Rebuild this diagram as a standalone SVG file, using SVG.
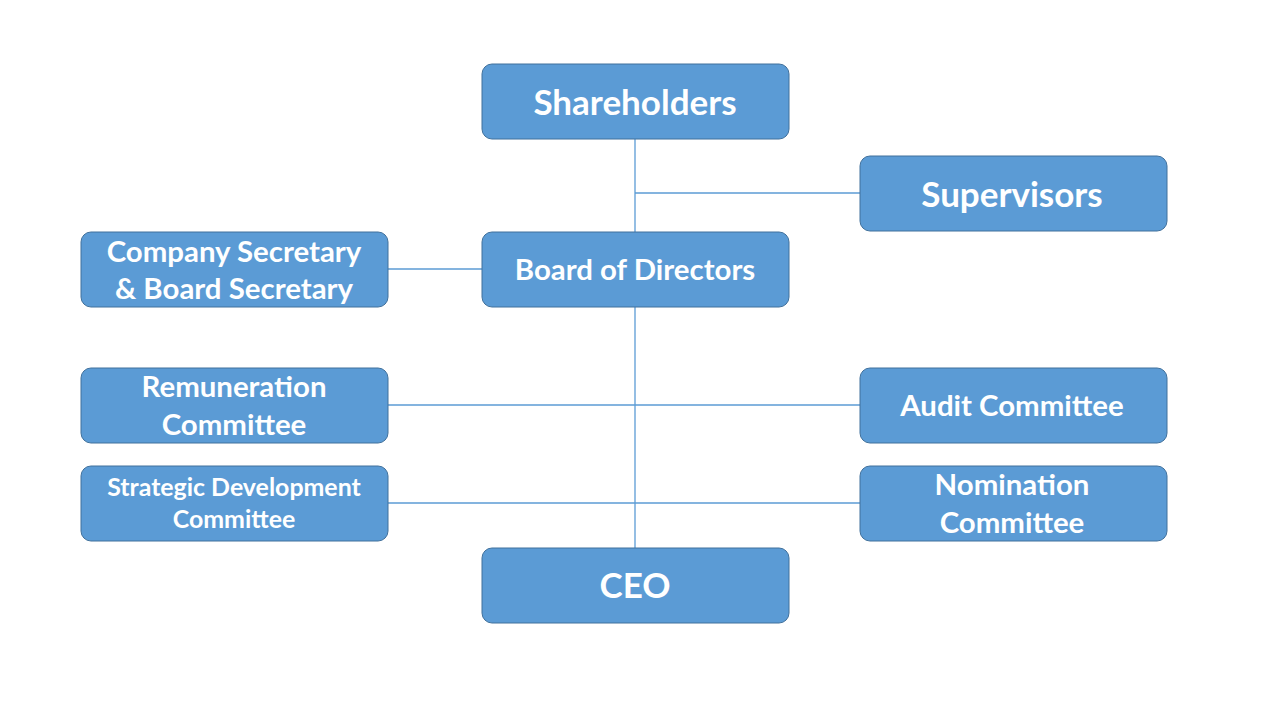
<svg xmlns="http://www.w3.org/2000/svg" width="1276" height="717" viewBox="0 0 1276 717">
<style>
.box{fill:#5B9BD5;stroke:#41719C;stroke-width:1}
.t{fill:#fff;font-family:Lato,"Liberation Sans",sans-serif;font-weight:bold;text-anchor:middle}
.l{stroke:#5B9BD5;stroke-width:1.3;fill:none}
</style>
<rect width="1276" height="717" fill="#fff"/>
<g id="connectors">
<line class="l" x1="635" y1="139" x2="635" y2="548"/>
<line class="l" x1="635" y1="193" x2="860" y2="193"/>
<line class="l" x1="388" y1="269" x2="482" y2="269"/>
<line class="l" x1="388" y1="405" x2="860" y2="405"/>
<line class="l" x1="388" y1="503" x2="860" y2="503"/>
</g>
<g id="shareholders"><rect class="box" x="482" y="64" width="307" height="75" rx="10"/><text class="t" x="635" y="115" font-size="35">Shareholders</text></g>
<g id="supervisors"><rect class="box" x="860" y="156" width="307" height="75" rx="10"/><text class="t" x="1012" y="207" font-size="35">Supervisors</text></g>
<g id="board"><rect class="box" x="482" y="232" width="307" height="75" rx="10"/><text class="t" x="635" y="280" font-size="29.4">Board of Directors</text></g>
<g id="secretary"><rect class="box" x="81" y="232" width="307" height="75" rx="10"/><text class="t" x="234" y="262" font-size="29.4">Company Secretary</text><text class="t" x="234" y="299" font-size="29.4">&amp; Board Secretary</text></g>
<g id="remuneration"><rect class="box" x="81" y="368" width="307" height="75" rx="10"/><text class="t" x="234" y="397" font-size="29.4">Remuneration</text><text class="t" x="234" y="435" font-size="29.4">Committee</text></g>
<g id="audit"><rect class="box" x="860" y="368" width="307" height="75" rx="10"/><text class="t" x="1012" y="416" font-size="29.4">Audit Committee</text></g>
<g id="strategic"><rect class="box" x="81" y="466" width="307" height="75" rx="10"/><text class="t" x="234" y="496" font-size="24.9">Strategic Development</text><text class="t" x="234" y="528" font-size="24.9">Committee</text></g>
<g id="nomination"><rect class="box" x="860" y="466" width="307" height="75" rx="10"/><text class="t" x="1012" y="495" font-size="29.4">Nomination</text><text class="t" x="1012" y="533" font-size="29.4">Committee</text></g>
<g id="ceo"><rect class="box" x="482" y="548" width="307" height="75" rx="10"/><text class="t" x="635" y="598" font-size="35">CEO</text></g>
</svg>
